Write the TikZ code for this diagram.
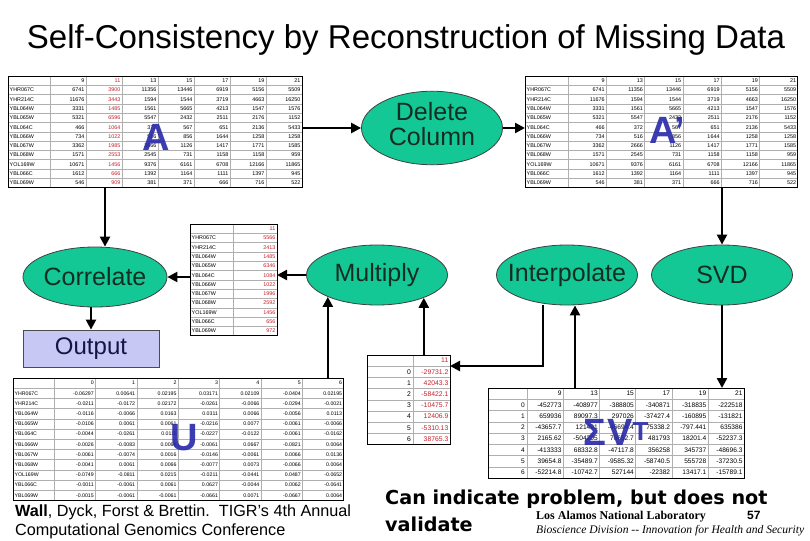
\documentclass[tikz,border=0pt]{standalone}
\usepackage{fontspec}
\setmainfont{Liberation Sans}
\newfontfamily\serifx{Liberation Serif}
\newfontfamily\heavyx{DejaVu Sans}
\usetikzlibrary{shapes.geometric,arrows.meta}
\definecolor{ellfill}{RGB}{20,200,150}
\definecolor{elltext}{RGB}{20,45,35}
\definecolor{outfill}{RGB}{200,200,245}
\definecolor{outtext}{RGB}{20,20,70}
\definecolor{tred}{RGB}{200,30,40}
\definecolor{bigblue}{RGB}{40,40,170}
\definecolor{gridgray}{RGB}{175,175,175}

\newcommand\drawtable[4]{%
  \pgfmathsetmacro\tbWW{\tbL-\tbX+\tbW*\tbN}%
  \pgfmathsetmacro\tbHH{\tbH*\tbR}%
  \pgfmathtruncatemacro\tbRm{\tbR-1}%
  \pgfmathtruncatemacro\tbNm{\tbN-1}%
  \node[tbl, minimum width=\tbWW pt, minimum height=\tbHH pt, anchor=north west] (#1) at (\tbX,\tbY) {};
  \foreach \r in {1,...,\tbRm} \draw[gridln] (\tbX,{\tbY+\r*\tbH}) -- ++(\tbWW,0);
  \foreach \c in {0,...,\tbNm} \draw[gridln] ({\tbL+\c*\tbW},\tbY) -- ++(0,\tbHH);
  \foreach \hh [count=\j] in {#2} {
    \ifnum\j=#4\relax\def\cc{tred}\else\def\cc{black}\fi
    \node[cellnum, text=\cc] (#1-h\j) at ({\tbL+\j*\tbW-1.5},{\tbY+0.5*\tbH}) {\hh};
  }
  \foreach \lab/\vals [count=\i] in {#3} {
    \ifnum\tbM=0
      \node[celllab] (#1-l\i) at ({\tbX+1.5},{\tbY+(\i+0.5)*\tbH}) {\lab};
    \else
      \node[cellnum] (#1-l\i) at ({\tbL-2},{\tbY+(\i+0.5)*\tbH}) {\lab};
    \fi
    \foreach \v [count=\j] in \vals {
      \ifnum\j=#4\relax\def\cc{tred}\else\def\cc{black}\fi
      \node[cellnum, text=\cc] (#1-\i-\j) at ({\tbL+\j*\tbW-1.5},{\tbY+(\i+0.5)*\tbH}) {\v};
    }
  }
  \draw[tblframe] (#1.north west) rectangle (#1.south east);
}

\begin{document}
\begin{tikzpicture}[x=1pt,y=-1pt,
  tbl/.style={fill=white, inner sep=0pt, outer sep=0pt},
  tblframe/.style={draw=black, line width=0.9pt},
  gridln/.style={draw=gridgray, line width=0.4pt},
  cellnum/.style={font=\fontsize{\tbF}{\tbF}\selectfont, anchor=east, inner sep=0pt},
  celllab/.style={font=\fontsize{\tbF}{\tbF}\selectfont, anchor=west, inner sep=0pt},
  proc/.style={ellipse, draw=black!75, line width=0.8pt, fill=ellfill, text=elltext,
    font=\fontsize{25}{27}\selectfont, minimum width=141pt, minimum height=60pt, inner sep=0pt},
  outbox/.style={rectangle, draw=black!70, line width=0.8pt, fill=outfill, text=outtext,
    font=\fontsize{24}{26}\selectfont, minimum width=136pt, minimum height=37pt, inner sep=0pt},
  conn/.style={line width=2.3pt, -{Triangle[length=10pt,width=10pt]}},
  bigl/.style={text=bigblue, font=\fontsize{38}{38}\selectfont\bfseries, inner sep=0pt, opacity=0.9}
]
\useasboundingbox[fill=white] (0,0) rectangle (810,540);

% title
\node (title) at (406,40) {\resizebox{758pt}{!}{Self-Consistency by Reconstruction of Missing Data}};

% ---------- table A
\def\tbX{8}\def\tbL{50}\def\tbW{36}\def\tbN{7}\def\tbY{76}\def\tbH{9.3}\def\tbR{12}\def\tbM{0}\def\tbF{5.4}
\drawtable{tA}{9,11,13,15,17,19,21}{%
YHR067C/{6741,3900,11356,13446,6919,5156,5509},
YHR214C/{11676,3443,1594,1544,3719,4663,16250},
YBL064W/{3331,1485,1561,5665,4213,1547,1576},
YBL065W/{5321,6596,5547,2432,2511,2176,1152},
YBL064C/{466,1064,372,567,651,2136,5433},
YBL066W/{734,1022,516,856,1644,1258,1258},
YBL067W/{3362,1985,2666,1126,1417,1771,1585},
YBL068W/{1571,2553,2545,731,1158,1158,959},
YOL169W/{10671,1456,9376,6161,6708,12166,11865},
YBL066C/{1612,666,1392,1164,1111,1397,945},
YBL069W/{546,909,381,371,666,716,522}}{2}
\node[bigl] (lA) at (156,137) {A};

% ---------- table A'
\def\tbX{525}\def\tbL{568}\def\tbW{38.3}\def\tbN{6}\def\tbY{76}\def\tbH{9.3}\def\tbR{12}\def\tbM{0}\def\tbF{5.4}
\drawtable{tAp}{9,13,15,17,19,21}{%
YHR067C/{6741,11356,13446,6919,5156,5509},
YHR214C/{11676,1594,1544,3719,4663,16250},
YBL064W/{3331,1561,5665,4213,1547,1576},
YBL065W/{5321,5547,2432,2511,2176,1152},
YBL064C/{466,372,567,651,2136,5433},
YBL066W/{734,516,856,1644,1258,1258},
YBL067W/{3362,2666,1126,1417,1771,1585},
YBL068W/{1571,2545,731,1158,1158,959},
YOL169W/{10671,9376,6161,6708,12166,11865},
YBL066C/{1612,1392,1164,1111,1397,945},
YBL069W/{546,381,371,666,716,522}}{0}
\node[bigl] (lAp) at (667,130) {A’};

% ---------- reconstructed column
\def\tbX{190}\def\tbL{233}\def\tbW{44}\def\tbN{1}\def\tbY{224}\def\tbH{9.3}\def\tbR{12}\def\tbM{0}\def\tbF{5.4}
\drawtable{tM}{11}{%
YHR067C/{5566},YHR214C/{2413},YBL064W/{1485},YBL065W/{6346},YBL064C/{1084},
YBL066W/{1022},YBL067W/{1996},YBL068W/{2592},YOL169W/{1456},YBL066C/{656},YBL069W/{972}}{1}

% ---------- table U
\def\tbX{13}\def\tbL{54}\def\tbW{41.4}\def\tbN{7}\def\tbY{378}\def\tbH{10.2}\def\tbR{12}\def\tbM{0}\def\tbF{5.2}
\drawtable{tU}{0,1,2,3,4,5,6}{%
YHR067C/{-0.06297,0.00641,0.02195,0.03171,0.02109,-0.0404,0.02195},
YHR214C/{-0.0211,-0.0172,0.02172,-0.0261,-0.0066,-0.0294,-0.0021},
YBL064W/{-0.0116,-0.0066,0.0163,0.0311,0.0066,-0.0056,0.0113},
YBL065W/{-0.0106,0.0061,0.0061,-0.0216,0.0077,-0.0061,-0.0066},
YBL064C/{-0.0044,-0.0261,0.0111,-0.0227,-0.0122,-0.0061,-0.0162},
YBL066W/{-0.0026,-0.0083,0.0066,-0.0061,0.0667,-0.0821,0.0064},
YBL067W/{-0.0061,-0.0074,0.0016,-0.0146,-0.0061,0.0066,0.0136},
YBL068W/{-0.0041,0.0061,0.0066,-0.0077,0.0073,-0.0066,0.0064},
YOL169W/{-0.0749,-0.0811,0.0215,-0.0211,-0.0441,0.0487,-0.0652},
YBL066C/{-0.0011,-0.0061,0.0061,0.0627,-0.0044,0.0062,-0.0641},
YBL069W/{-0.0015,-0.0061,-0.0061,-0.0661,0.0071,-0.0667,0.0064}}{0}
\node[bigl] (lU) at (184,438) {U};

% ---------- vector table
\def\tbX{367}\def\tbL{413}\def\tbW{37}\def\tbN{1}\def\tbY{355}\def\tbH{11.2}\def\tbR{8}\def\tbM{1}\def\tbF{6.8}
\drawtable{tV}{11}{0/{-29731.2},1/{42043.3},2/{-58422.1},3/{-10475.7},4/{12406.9},5/{-5310.13},6/{38765.3}}{1}

% ---------- Sigma V^T table
\def\tbX{488}\def\tbL{527}\def\tbW{36.2}\def\tbN{6}\def\tbY{388}\def\tbH{11.25}\def\tbR{8}\def\tbM{1}\def\tbF{6.6}
\drawtable{tS}{9,13,15,17,19,21}{%
0/{-452773,-408977,-388805,-340871,-318835,-222518},
1/{659936,89097.3,297026,-37427.4,-160895,-131821},
2/{-43657.7,121491,-46694.4,75338.2,-797.441,635386},
3/{2165.62,-504205,76652.7,481793,18201.4,-52237.3},
4/{-413333,68332.8,-47117.8,356258,345737,-48696.3},
5/{39654.8,-35489.7,-9585.32,-58740.5,555728,-37230.5},
6/{-52214.8,-10742.7,527144,-22382,13417.1,-15789.1}}{0}
\node[bigl] (lS) at (616,432) {Σ\kern1pt V\raisebox{5pt}{\fontsize{26}{26}\selectfont T}};

% ---------- process nodes
\node[proc] (del) at (432,128) {\makebox[0pt]{\begin{tabular}{@{}c@{}}Delete\\[-2pt]Column\end{tabular}}};
\node[proc] (svd) at (722,275) {\makebox[0pt]{SVD}};
\node[proc] (interp) at (567,275) {\makebox[0pt]{Interpolate}};
\node[proc] (mul) at (377,275) {\makebox[0pt]{Multiply}};
\node[proc, minimum width=144pt] (cor) at (95,277) {\makebox[0pt]{Correlate}};
\node[outbox] (out) at (91,348.5) {Output};

% ---------- connectors
\coordinate (vin) at (450,366);
\draw[conn] (tA.east |- del) -- (del.west);
\draw[conn] (del.east) -- (tAp.west |- del);
\draw[conn] (svd.north |- tAp.south) -- (svd.north);
\draw[conn] (svd.south) -- (svd.south |- tS.north);
\draw[conn] ([xshift=8pt]interp.south |- tS.north) -- ([xshift=8pt]interp.south);
\draw[conn] ([xshift=-24pt]interp.south) |- (vin);
\draw[conn] (mul.-26 |- tV.north) -- (mul.-26);
\draw[conn] (mul.-156 |- tU.north) -- (mul.-156);
\draw[conn] (mul.west) -- (mul.west -| tM.east);
\draw[conn] (tM.west |- cor.east) -- (cor.east);
\draw[conn] ([xshift=10pt]cor.north |- tA.south) -- ([xshift=10pt]cor.north);
\draw[conn] (out.north |- cor.south) -- (out.north);

% ---------- footer texts
\node[anchor=west, inner sep=0pt, font=\fontsize{16.2}{18}\selectfont] (cite1) at (15,512) {\textbf{Wall}, Dyck, Forst \& Brettin.\ \ TIGR's 4th Annual};
\node[anchor=west, inner sep=0pt, font=\fontsize{16.2}{18}\selectfont] (cite2) at (15,531) {Computational Genomics Conference};
\node[anchor=west, inner sep=0pt, font=\heavyx\bfseries\fontsize{19.2}{21}\selectfont] (msg1) at (385,499) {Can indicate problem, but does not};
\node[anchor=west, inner sep=0pt, font=\heavyx\bfseries\fontsize{19.2}{21}\selectfont] (msg2) at (385,524) {validate};
\node[anchor=west, inner sep=0pt, font=\serifx\bfseries\fontsize{12}{14}\selectfont] (lanl) at (536,517) {Los Alamos National Laboratory};
\node[anchor=west, inner sep=0pt, font=\bfseries\fontsize{12}{14}\selectfont] (pg) at (747,515) {57};
\node[anchor=west, inner sep=0pt, font=\serifx\itshape\fontsize{10}{12}\selectfont] (div) at (536,531) {\resizebox{268pt}{!}{Bioscience Division -- Innovation for Health and Security}};
\end{tikzpicture}
\end{document}
